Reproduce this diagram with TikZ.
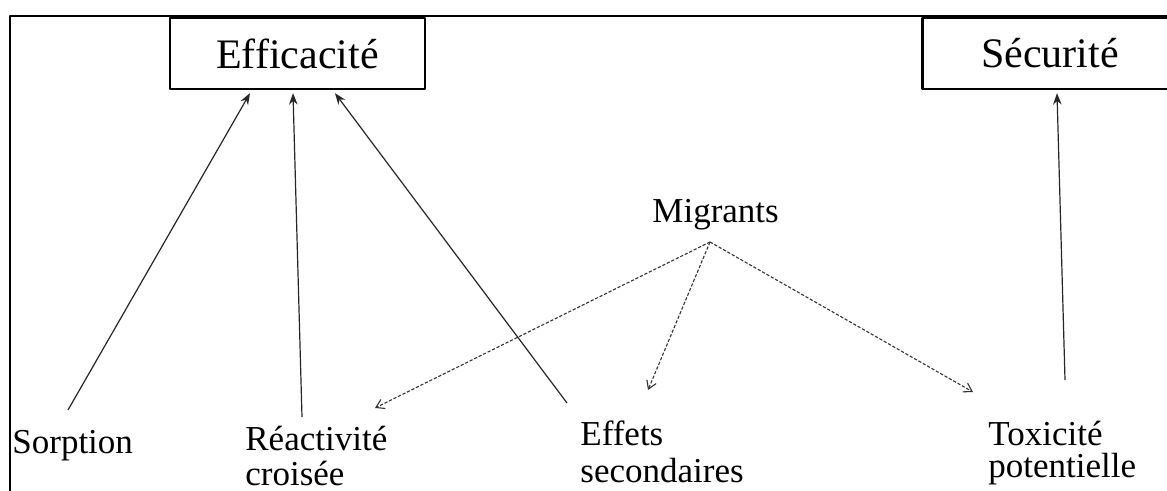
\documentclass[tikz,border=0pt]{standalone}
\usepackage{fontspec}
\setmainfont{Liberation Serif}
\usetikzlibrary{calc,arrows.meta,positioning}

\begin{document}
\begin{tikzpicture}[x=0.5pt, y=-0.5pt, >=Stealth, line join=round,
    goal/.style={draw, line width=1.2pt, minimum height=35.5pt, inner sep=0pt,
      minimum width=127.5pt, font=\fontsize{21}{24}\selectfont},
    lbl/.style={anchor=base west, inner sep=0pt, align=left,
      font=\fontsize{17.5}{18.5}\selectfont},
    pull/.style={->, line width=0.6pt, draw=black!85},
    mig/.style={-{Straight Barb[length=4pt,width=5pt]}, line width=0.55pt,
      draw=black!80, dash pattern=on 1.6pt off 0.9pt}]
  \useasboundingbox (0,0) rectangle (1167,491);
  % frame (cropped on the right and at the bottom)
  \draw[line width=0.8pt] (10,495) -- (10,16) -- (1170,16);

  \node[goal] (eff) at (297.5,53.5) {Efficacité};
  \node[goal] (sec) at (1050,53.5) {Sécurité};
  \node[lbl] (migr) at (652,223) {Migrants};

  % base of a two-line label = baseline of its last line
  \node[lbl] (sorp) at (12,453) {Sorption};
  \node[lbl, font=\fontsize{17.5}{17.5}\selectfont] (reac) at (245,486) {Réactivité\\croisée};
  \node[lbl] (effs) at (580,482) {Effets\\secondaires};
  \node[lbl, font=\fontsize{17.5}{16.5}\selectfont] (toxi) at (988,478) {Toxicité\\potentielle};

  \coordinate (src) at ($(migr.base west)+(58,19)$);

  \draw[pull] ($(sorp.base west)+(56,-43)$) -- ($(eff.south)+(-47.5,3)$);
  \draw[pull] ($(reac.base west)+(57,-69)$) -- ($(eff.south)+(-4.5,3)$);
  \draw[pull] ($(effs.base west)+(-13,-79)$) -- ($(eff.south)+(37.5,3)$);
  \draw[pull] ($(toxi.base west)+(77,-98)$) -- ($(sec.south)+(7,3)$);

  \draw[mig] (src) -- ($(reac.base west)+(130,-78)$);
  \draw[mig] (src) -- ($(effs.base west)+(68,-92)$);
  \draw[mig] (src) -- ($(toxi.base west)+(-15,-86)$);
\end{tikzpicture}
\end{document}
